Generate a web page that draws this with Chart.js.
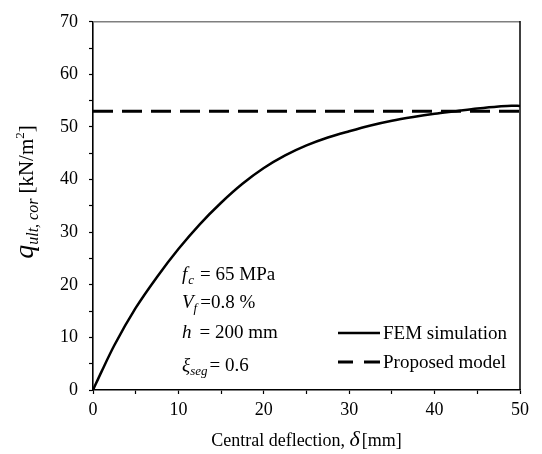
<!DOCTYPE html>
<html>
<head>
<meta charset="utf-8">
<script src="https://cdn.jsdelivr.net/npm/chart.js@4.4.1/dist/chart.umd.min.js"></script>
<style>
  html, body { margin: 0; padding: 0; background: #fff; }
  #wrap { width: 542px; height: 454px; }
</style>
</head>
<body>
<div id="wrap"><canvas id="c" width="542" height="454"></canvas></div>
<script>
// FEM load–deflection response (deflection in mm, load in kN/m²)
const femDeflection = [0, 1, 2.5, 5, 7.5, 10, 12.5, 15, 17.5, 20, 22.5, 25, 27.5, 30, 32.5, 35, 37.5, 40, 42.5, 45, 47.5, 49, 50];
const femLoad       = [0, 3.5, 8.5, 15.6, 21.5, 26.8, 31.5, 35.6, 39.2, 42.2, 44.6, 46.5, 48.0, 49.2, 50.3, 51.2, 51.9, 52.5, 53.0, 53.5, 53.9, 54.05, 54.0];

// Proposed model: constant ultimate load
const modelDeflection = [0, 50];
const modelLoad       = [53, 53];

// Labelled ticks (minor ticks every 5 without labels)
const xTickLabels = [0, 10, 20, 30, 40, 50];
const yTickLabels = [0, 10, 20, 30, 40, 50, 60, 70];

const SERIF = '"Liberation Serif", "Times New Roman", serif';

const toPoints = (xs, ys) => xs.map((x, i) => ({ x: x, y: ys[i] }));

// Draws a run of text pieces, each with its own font and baseline shift
function drawRuns(ctx, x, y, runs) {
  let cx = x;
  runs.forEach(r => {
    ctx.font = r.font;
    ctx.fillText(r.text, cx, y + (r.dy || 0));
    cx += ctx.measureText(r.text).width + (r.gap || 0);
  });
  return cx;
}
function runsWidth(ctx, runs) {
  let w = 0;
  runs.forEach(r => { ctx.font = r.font; w += ctx.measureText(r.text).width + (r.gap || 0); });
  return w;
}

const decorations = {
  id: 'decorations',
  afterDraw(chart) {
    const ctx = chart.ctx;
    const a = chart.chartArea;
    ctx.save();

    // frame: grey top edge, black right edge
    ctx.lineWidth = 1.5;
    ctx.strokeStyle = '#7f7f7f';
    ctx.beginPath(); ctx.moveTo(a.left, a.top); ctx.lineTo(a.right, a.top); ctx.stroke();
    ctx.strokeStyle = '#000';
    ctx.beginPath(); ctx.moveTo(a.right, a.top - 0.75); ctx.lineTo(a.right, a.bottom); ctx.stroke();

    ctx.fillStyle = '#000';
    ctx.textBaseline = 'alphabetic';
    ctx.textAlign = 'left';

    // x-axis title
    const xt = [
      { text: 'Central deflection, ', font: '18px ' + SERIF },
      { text: 'δ', font: 'italic 22px ' + SERIF, gap: 2 },
      { text: '[mm]', font: '18px ' + SERIF }
    ];
    const cxm = (a.left + a.right) / 2;
    drawRuns(ctx, cxm - runsWidth(ctx, xt) / 2, 446, xt);

    // y-axis title (rotated)
    const yt = [
      { text: 'q', font: 'italic 28px ' + SERIF },
      { text: 'ult, cor', font: 'italic 16px ' + SERIF, dy: 5, gap: 5 },
      { text: '[kN/m', font: '21px ' + SERIF },
      { text: '2', font: '13px ' + SERIF, dy: -9 },
      { text: ']', font: '21px ' + SERIF }
    ];
    ctx.save();
    ctx.translate(33, 192);
    ctx.rotate(-Math.PI / 2);
    drawRuns(ctx, -runsWidth(ctx, yt) / 2, 0, yt);
    ctx.restore();

    // parameter block
    const f19 = '19px ' + SERIF, i19 = 'italic 19px ' + SERIF, s13 = 'italic 13px ' + SERIF;
    drawRuns(ctx, 182, 280, [
      { text: 'f', font: i19, gap: 1 },
      { text: 'c', font: s13, dy: 4, gap: 6 },
      { text: '= 65 MPa', font: f19 }
    ]);
    drawRuns(ctx, 182, 308, [
      { text: 'V', font: i19 },
      { text: 'f', font: s13, dy: 4, gap: 3 },
      { text: '=0.8 %', font: f19 }
    ]);
    drawRuns(ctx, 182, 338, [
      { text: 'h', font: i19, gap: 8 },
      { text: '= 200 mm', font: f19 }
    ]);
    drawRuns(ctx, 182, 371, [
      { text: 'ξ', font: i19 },
      { text: 'seg', font: s13, dy: 4, gap: 2 },
      { text: '= 0.6', font: f19 }
    ]);

    // legend
    ctx.strokeStyle = '#000';
    ctx.lineWidth = 2.5;
    ctx.beginPath(); ctx.moveTo(338, 333); ctx.lineTo(380, 333); ctx.stroke();
    ctx.lineWidth = 3;
    ctx.beginPath(); ctx.moveTo(338, 362); ctx.lineTo(353, 362); ctx.moveTo(364, 362); ctx.lineTo(380, 362); ctx.stroke();
    ctx.font = f19;
    ctx.fillText('FEM simulation', 383, 339);
    ctx.fillText('Proposed model', 383, 368);

    ctx.restore();
  }
};

new Chart(document.getElementById('c'), {
  type: 'line',
  data: {
    datasets: [
      {
        label: 'FEM simulation',
        data: toPoints(femDeflection, femLoad),
        borderColor: '#000',
        borderWidth: 2.5,
        pointRadius: 0,
        cubicInterpolationMode: 'monotone',
        fill: false
      },
      {
        label: 'Proposed model',
        data: toPoints(modelDeflection, modelLoad),
        borderColor: '#000',
        borderWidth: 3,
        borderDash: [20, 9],
        pointRadius: 0,
        fill: false
      }
    ]
  },
  options: {
    responsive: false,
    animation: false,
    devicePixelRatio: 1,
    layout: { padding: { top: 12, right: 22, left: 0, bottom: 0 } },
    plugins: { legend: { display: false }, tooltip: { enabled: false } },
    scales: {
      x: {
        type: 'linear',
        min: 0, max: 50,
        afterFit(s) { s.height = 64; },
        border: { color: '#000', width: 1.6 },
        grid: { drawOnChartArea: false, drawTicks: true, tickLength: 4, tickColor: '#000', tickWidth: 1.2 },
        ticks: {
          stepSize: 5,
          autoSkip: false,
          maxRotation: 0,
          padding: 5,
          color: '#000',
          font: { family: SERIF, size: 18 },
          callback: v => xTickLabels.includes(v) ? String(v) : ''
        }
      },
      y: {
        min: 0, max: 70,
        afterFit(s) { s.width = 93; },
        border: { color: '#000', width: 1.6 },
        grid: { drawOnChartArea: false, drawTicks: true, tickLength: 4, tickColor: '#000', tickWidth: 1.2 },
        ticks: {
          stepSize: 5,
          autoSkip: false,
          padding: 11,
          color: '#000',
          font: { family: SERIF, size: 18 },
          callback: v => yTickLabels.includes(v) ? String(v) : ''
        }
      }
    }
  },
  plugins: [decorations]
});
</script>
</body>
</html>
